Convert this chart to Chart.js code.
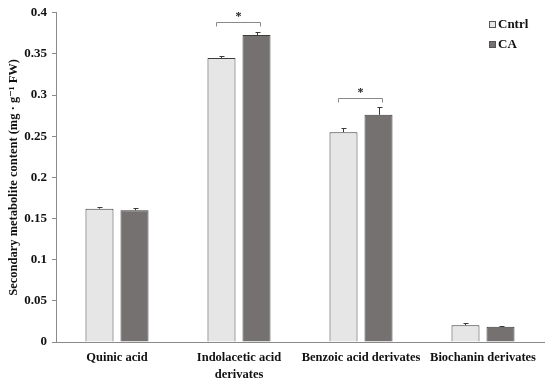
<!DOCTYPE html>
<html>
<head>
<meta charset="utf-8">
<script src="https://cdn.jsdelivr.net/npm/chart.js@4/dist/chart.umd.min.js"></script>
<style>
  html, body { margin: 0; padding: 0; background: #fff; }
  #wrap { width: 550px; height: 384px; }
</style>
</head>
<body>
<div id="wrap"><canvas id="grafico"></canvas></div>
<script>
const categorias = [
  "Quinic acid",
  ["Indolacetic acid", "derivates"],
  "Benzoic acid derivates",
  "Biochanin derivates"
];
const valoresCntrl = [0.162, 0.345, 0.255, 0.0205];
const valoresCA = [0.160, 0.373, 0.276, 0.0185];
const erroCntrl = [0.002, 0.002, 0.005, 0.003];
const erroCA = [0.003, 0.004, 0.009, 0.001];
// pares com diferença significativa (índice da categoria)
const significativos = [1, 2];
const ticksY = [0, 0.05, 0.1, 0.15, 0.2, 0.25, 0.3, 0.35, 0.4];

const fonte = "'Liberation Serif', 'DejaVu Serif', serif";

const errorBars = {
  id: "errorBars",
  afterDatasetsDraw(chart) {
    const ctx = chart.ctx;
    const y = chart.scales.y;
    const erros = [erroCntrl, erroCA];
    ctx.save();
    ctx.strokeStyle = "#3a3a3a";
    ctx.lineWidth = 1;
    chart.data.datasets.forEach((ds, i) => {
      const meta = chart.getDatasetMeta(i);
      meta.data.forEach((bar, j) => {
        const topo = Math.round(y.getPixelForValue(ds.data[j] + erros[i][j])) + 0.5;
        const x = Math.round(bar.x) + 0.5;
        ctx.beginPath();
        ctx.moveTo(x, bar.y);
        ctx.lineTo(x, topo);
        ctx.moveTo(x - 2, topo);
        ctx.lineTo(x + 3, topo);
        ctx.stroke();
      });
    });
    ctx.restore();
  }
};

const brackets = {
  id: "brackets",
  afterDatasetsDraw(chart) {
    const ctx = chart.ctx;
    const y = chart.scales.y;
    ctx.save();
    ctx.strokeStyle = "#888";
    ctx.lineWidth = 1;
    ctx.fillStyle = "#222";
    ctx.font = "bold 12px " + fonte;
    ctx.textAlign = "center";
    ctx.textBaseline = "middle";
    significativos.forEach(j => {
      const a = chart.getDatasetMeta(0).data[j];
      const b = chart.getDatasetMeta(1).data[j];
      const maxV = Math.max(valoresCntrl[j] + erroCntrl[j], valoresCA[j] + erroCA[j]);
      const yl = Math.round(y.getPixelForValue(maxV + 0.012)) + 0.5;
      const x1 = Math.round(a.x - 5) + 0.5;
      const x2 = Math.round(b.x + 3) + 0.5;
      ctx.beginPath();
      ctx.moveTo(x1, yl + 4);
      ctx.lineTo(x1, yl);
      ctx.lineTo(x2, yl);
      ctx.lineTo(x2, yl + 4);
      ctx.stroke();
      ctx.fillText("*", (x1 + x2) / 2, yl - 6);
    });
    ctx.restore();
  }
};

const legenda = {
  id: "legenda",
  afterDraw(chart) {
    const ctx = chart.ctx;
    ctx.save();
    ctx.font = "bold 13px " + fonte;
    ctx.textBaseline = "middle";
    chart.data.datasets.forEach((ds, i) => {
      const yc = 25 + i * 20;
      ctx.fillStyle = ds.backgroundColor;
      ctx.fillRect(489.5, yc - 3.5, 6, 6);
      ctx.strokeStyle = "#555";
      ctx.lineWidth = 1;
      ctx.strokeRect(489.5, yc - 3.5, 6, 6);
      ctx.fillStyle = "#111";
      ctx.fillText(ds.label, 498, yc);
    });
    ctx.restore();
  }
};

new Chart(document.getElementById("grafico"), {
  type: "bar",
  data: {
    labels: categorias,
    datasets: [
      {
        label: "Cntrl",
        data: valoresCntrl,
        backgroundColor: "#e6e6e6",
        borderColor: "#3c3c3c",
        borderWidth: 1,
        categoryPercentage: 0.574,
        barPercentage: 0.8
      },
      {
        label: "CA",
        data: valoresCA,
        backgroundColor: "#767171",
        borderColor: "#3c3c3c",
        borderWidth: 1,
        categoryPercentage: 0.574,
        barPercentage: 0.8
      }
    ]
  },
  options: {
    responsive: true,
    maintainAspectRatio: false,
    animation: false,
    layout: { padding: { left: 0, right: 6, top: 10, bottom: 0 } },
    plugins: {
      legend: { display: false },
      tooltip: { enabled: false }
    },
    scales: {
      x: {
        grid: { display: false, drawTicks: false },
        border: { color: "#8a8a8a", width: 1 },
        ticks: {
          color: "#111",
          font: { family: fonte, size: 12.5, weight: "bold", lineHeight: 1.3 },
          maxRotation: 0,
          autoSkip: false,
          padding: 8
        },
        afterFit(scale) { scale.height = 42; }
      },
      y: {
        min: 0,
        max: 0.4,
        afterBuildTicks(scale) {
          scale.ticks = ticksY.map(v => ({ value: v }));
        },
        grid: {
          drawOnChartArea: false,
          drawTicks: true,
          tickLength: 4,
          color: "#8a8a8a"
        },
        border: { color: "#8a8a8a", width: 1 },
        ticks: {
          color: "#111",
          font: { family: fonte, size: 13, weight: "bold" },
          padding: 5,
          callback: v => String(+v.toFixed(2))
        },
        title: {
          display: true,
          text: "Secondary metabolite content (mg · g⁻¹ FW)",
          color: "#111",
          font: { family: fonte, size: 12.5, weight: "bold" },
          padding: { top: 6, bottom: 0 }
        },
        afterFit(scale) { scale.width = 56; }
      }
    }
  },
  plugins: [errorBars, brackets, legenda]
});
</script>
</body>
</html>
